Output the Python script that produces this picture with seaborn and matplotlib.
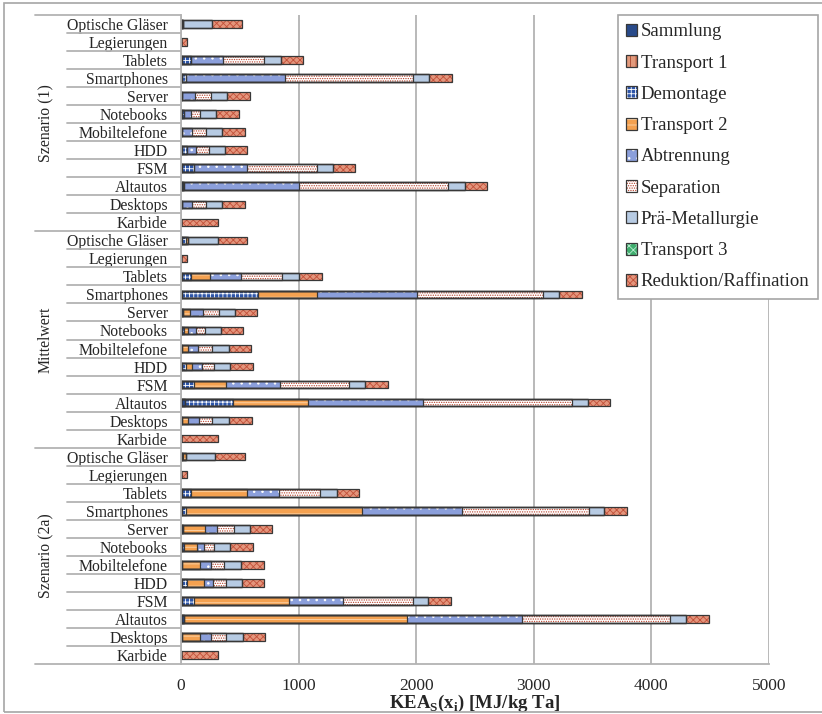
import pandas as pd
import matplotlib
matplotlib.use("Agg")
import matplotlib.pyplot as plt
from matplotlib.patches import Patch, Rectangle
import seaborn as sns

# --------------------------------------------------
# data: KEA per process step [MJ/kg Ta]
# 12 products per group, groups in the order below
# --------------------------------------------------
groups = ["Szenario (1)", "Mittelwert", "Szenario (2a)"]
products = ["Optische Gläser", "Legierungen", "Tablets", "Smartphones", "Server",
            "Notebooks", "Mobiltelefone", "HDD", "FSM", "Altautos", "Desktops", "Karbide"]
steps = ["Sammlung", "Transport 1", "Demontage", "Transport 2", "Abtrennung",
         "Separation", "Prä-Metallurgie", "Transport 3", "Reduktion/Raffination"]

sammlung = [5, 0, 5, 5, 10, 5, 8, 5, 5, 15, 5, 0,
            5, 0, 5, 5, 15, 5, 8, 5, 5, 30, 5, 0,
            5, 0, 5, 5, 17, 5, 6, 5, 5, 26, 5, 0]
transport1 = [0, 0, 0, 0, 0, 0, 0, 0, 0, 0, 0, 0,
              0, 0, 0, 0, 0, 0, 0, 0, 0, 0, 0, 0,
              0, 0, 0, 0, 0, 0, 0, 0, 0, 0, 0, 0]
demontage = [15, 0, 80, 38, 0, 18, 0, 46, 103, 8, 0, 0,
             35, 0, 83, 654, 0, 23, 0, 40, 103, 412, 0, 0,
             15, 0, 83, 40, 0, 18, 0, 46, 103, 0, 0, 0]
transport2 = [0, 0, 0, 0, 0, 0, 0, 0, 0, 0, 0, 0,
              20, 0, 159, 500, 62, 32, 54, 52, 276, 639, 55, 0,
              20, 0, 474, 1498, 188, 113, 159, 145, 812, 1900, 160, 0]
abtrennung = [0, 0, 270, 843, 109, 62, 86, 80, 457, 980, 89, 0,
              0, 0, 264, 845, 108, 65, 86, 85, 454, 980, 90, 0,
              0, 0, 268, 843, 102, 63, 91, 80, 461, 972, 91, 0]
separation = [0, 0, 347, 1088, 140, 80, 116, 105, 588, 1264, 119, 0,
              0, 0, 350, 1076, 139, 80, 116, 102, 591, 1260, 117, 0,
              0, 0, 349, 1080, 142, 82, 113, 108, 588, 1263, 128, 0]
prae_met = [247, 0, 145, 134, 136, 136, 142, 136, 140, 146, 139, 0,
            252, 0, 145, 137, 133, 136, 142, 136, 133, 138, 145, 0,
            247, 0, 145, 133, 136, 134, 145, 133, 133, 136, 142, 0]
transport3 = [0, 0, 0, 0, 0, 0, 0, 0, 0, 0, 0, 0,
              0, 0, 0, 0, 0, 0, 0, 0, 0, 0, 0, 0,
              0, 0, 0, 0, 0, 0, 0, 0, 0, 0, 0, 0]
reduktion = [253, 48, 193, 193, 190, 193, 196, 190, 187, 193, 196, 312,
             250, 48, 190, 192, 193, 190, 191, 191, 194, 192, 190, 312,
             253, 48, 193, 192, 193, 193, 191, 193, 193, 192, 187, 312]

# face colour, hatch, hatch colour
styles = {
    "Sammlung": ("#284a8a", None, "#284a8a"),
    "Transport 1": ("#e29a7c", "|||", "#a8452c"),
    "Demontage": ("#2d55a8", "++++", "white"),
    "Transport 2": ("#f4a150", "---", "#fcd7ae"),
    "Abtrennung": ("#8b9fdb", "..", "white"),
    "Separation": ("white", ".......", "#b8402a"),
    "Prä-Metallurgie": ("#b7cbe3", None, "#b7cbe3"),
    "Transport 3": ("#3fae6e", "xxxx", "#b9ecd0"),
    "Reduktion/Raffination": ("#e4957c", "xxxxx", "#c2513a"),
}

# --------------------------------------------------
# table with cumulative sums (stacked bars)
# --------------------------------------------------
rows = [f"{g}|{p}" for g in groups for p in products]
df = pd.DataFrame({
    "Sammlung": sammlung, "Transport 1": transport1, "Demontage": demontage,
    "Transport 2": transport2, "Abtrennung": abtrennung, "Separation": separation,
    "Prä-Metallurgie": prae_met, "Transport 3": transport3,
    "Reduktion/Raffination": reduktion,
})
cum = df[steps].cumsum(axis=1)
cum["row"] = rows

sns.set_theme(style="white")
plt.rcParams["font.family"] = ["Liberation Serif", "DejaVu Serif"]
plt.rcParams["mathtext.fontset"] = "custom"
plt.rcParams["mathtext.rm"] = "Liberation Serif"
plt.rcParams["mathtext.bf"] = "Liberation Serif:bold"
plt.rcParams["hatch.linewidth"] = 0.6

W, H = 822, 714
fig = plt.figure(figsize=(W / 100, H / 100), dpi=100)
ax = fig.add_axes([181 / W, 1 - 664 / H, (769 - 181) / W, (664 - 15) / H])

edge = "#383838"
bar_w = 0.42

# fills, longest first so shorter stacks sit on top
for step in reversed(steps):
    face, hatch, hcol = styles[step]
    sns.barplot(data=cum, x=step, y="row", order=rows, orient="y",
                color=face, hatch=hatch, edgecolor=hcol, linewidth=0,
                width=bar_w, saturation=1, errorbar=None, ax=ax)

# outlines of every segment
for step in steps:
    sns.barplot(data=cum, x=step, y="row", order=rows, orient="y",
                fill=False, color=edge, linewidth=0.9,
                width=bar_w, errorbar=None, ax=ax)

# --------------------------------------------------
# axes styling
# --------------------------------------------------
grid_col = "#b3b3b3"
ax.set_xticks(range(0, 5001, 1000))
ax.xaxis.grid(True, color=grid_col, linewidth=1.3)
ax.set_axisbelow(True)
ax.set_yticks(range(len(rows)))
ax.set_yticklabels(products * len(groups), fontsize=11.3)
ax.tick_params(axis="y", length=0, pad=9.5)
ax.tick_params(axis="x", length=0, pad=10, labelsize=12.5)
ax.set_ylabel("")
ax.set_xlabel(r"KEA$_\mathbf{S}$(x$_\mathbf{i}$) [MJ/kg Ta]",
              fontweight="bold", fontsize=13.5, labelpad=-1)

for s in ["top", "right"]:
    ax.spines[s].set_visible(False)
ax.spines["left"].set_color(grid_col)
ax.spines["bottom"].set_color(grid_col)
ax.spines["left"].set_linewidth(1.3)
ax.spines["bottom"].set_linewidth(1.3)

# multi-level category axis (separators and group names)
trans = ax.get_yaxis_transform()
inner_x = (67 - 181) / (769 - 181)
outer_x = (35 - 181) / (769 - 181)
n = len(products)
for i in range(len(rows) + 1):
    y = i - 0.5
    x0 = outer_x if i % n == 0 else inner_x
    ax.plot([x0, 0], [y, y], transform=trans, clip_on=False,
            color=grid_col, linewidth=1.3)
for k, g in enumerate(groups):
    ax.text((46 - 181) / (769 - 181), k * n + (n - 1) / 2, g, transform=trans,
            rotation=90, ha="center", va="center", fontsize=11.3)

ax.set_xlim(0, 5000)
ax.set_ylim(len(rows) - 0.5, -0.5)

# legend
handles = []
for step in steps:
    face, hatch, hcol = styles[step]
    handles.append((Patch(facecolor=face, hatch=hatch, edgecolor=hcol, linewidth=0),
                    Patch(facecolor="none", edgecolor=edge, linewidth=0.9)))
leg = fig.legend(handles, steps, loc="upper left",
                 bbox_to_anchor=(617.5 / W, 1 - 15 / H), borderaxespad=0,
                 fontsize=13.5, frameon=True, fancybox=False, framealpha=1,
                 edgecolor="#a6a6a6", borderpad=0.45, labelspacing=0.76,
                 handlelength=0.6, handleheight=0.6, handletextpad=0.2)
leg.get_frame().set_linewidth(1.2)

# outer chart frame
fig.patches.append(Rectangle((4 / W, 2 / H), 1.0, 1 - 5 / H, transform=fig.transFigure,
                             fill=False, edgecolor="#a6a6a6", linewidth=1.2))

fig.savefig("out.png", dpi=100)
plt.close(fig)
